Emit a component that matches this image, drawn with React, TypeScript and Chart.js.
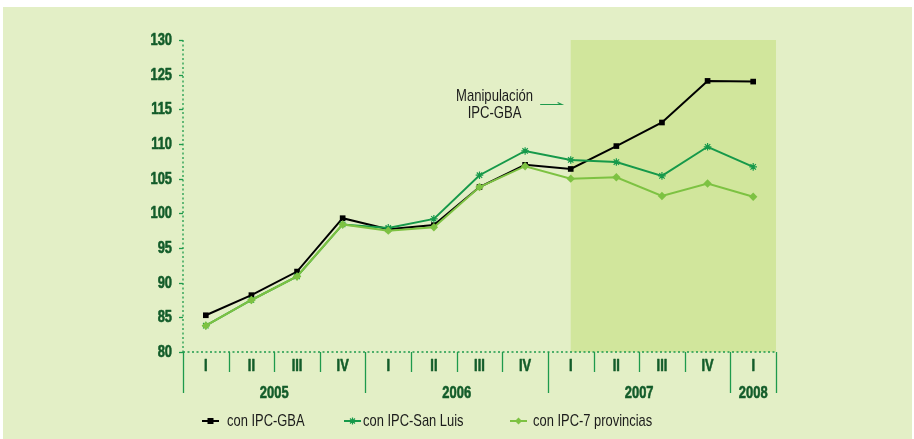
import { useEffect, useRef } from "react";
import { Chart, registerables } from "chart.js";

Chart.register(...registerables);

// ---- data ----
const quarters = ["I", "II", "III", "IV", "I", "II", "III", "IV", "I", "II", "III", "IV", "I"];
const years = ["2005", "2006", "2007", "2008"];
const yearSpans = [4, 4, 4, 1];
const yTickLabels = ["80", "85", "90", "95", "100", "105", "110", "115", "125", "130"];
const ipcGBA = [85.3, 88.2, 91.6, 99.3, 97.7, 98.3, 103.8, 107.0, 106.4, 109.7, 113.1, 119.1, 119.0];
const ipcSanLuis = [83.8, 87.5, 90.9, 98.4, 97.9, 99.2, 105.5, 109.0, 107.7, 107.4, 105.4, 109.6, 106.7];
const ipc7Prov = [83.8, 87.5, 90.9, 98.4, 97.5, 98.0, 103.8, 106.8, 105.0, 105.2, 102.5, 104.3, 102.4];
const seriesNames = ["con IPC-GBA", "con IPC-San Luis", "con IPC-7 provincias"];
const shadeFromIndex = 8;
const annotationLines = ["Manipulación", "IPC-GBA"];

// ---- styles ----
const FONT = "'Liberation Sans', Arial, sans-serif";
const BG = "#e3efc6";
const SHADE = "#d1e69c";
const AXIS = "#1e9a4c";
const TICKTEXT = "#135c2a";
const TEXT = "#1b1b1b";
const C_GBA = "#000000";
const C_SL = "#16994a";
const C_7P = "#7dc242";

function narrowText(
  ctx: CanvasRenderingContext2D,
  text: string,
  x: number,
  y: number,
  align: CanvasTextAlign,
  sx: number,
  embolden = 0
) {
  ctx.save();
  ctx.translate(x, y);
  ctx.scale(sx, 1);
  ctx.textAlign = align;
  ctx.fillText(text, 0, 0);
  if (embolden > 0) {
    ctx.strokeStyle = ctx.fillStyle as string;
    ctx.lineWidth = embolden;
    ctx.lineJoin = "round";
    ctx.strokeText(text, 0, 0);
  }
  ctx.restore();
}

const decorPlugin = {
  id: "decor",
  beforeDraw(chart: any) {
    const ctx = chart.ctx;
    ctx.save();
    ctx.fillStyle = "#ffffff";
    ctx.fillRect(0, 0, chart.width, chart.height);
    ctx.fillStyle = BG;
    ctx.fillRect(3, 7, chart.width - 5, chart.height - 7);
    ctx.restore();
  },
  beforeDatasetsDraw(chart: any) {
    const { ctx, chartArea, scales } = chart;
    const x = scales.x;
    ctx.save();
    const x0 = x.getPixelForValue(shadeFromIndex);
    ctx.fillStyle = SHADE;
    ctx.fillRect(x0, chartArea.top, chartArea.right - x0, chartArea.bottom - chartArea.top);
    ctx.restore();
  },
  afterDatasetsDraw(chart: any) {
    const { ctx, chartArea, scales } = chart;
    const x = scales.x;
    const y = scales.y;
    const { left, right, top, bottom } = chartArea;
    ctx.save();
    // y axis dotted
    ctx.strokeStyle = AXIS;
    ctx.lineWidth = 1.3;
    ctx.setLineDash([2, 2.5]);
    ctx.beginPath();
    ctx.moveTo(left, top);
    ctx.lineTo(left, bottom);
    ctx.stroke();
    // x axis dotted
    ctx.beginPath();
    ctx.moveTo(left, bottom);
    ctx.lineTo(right, bottom);
    ctx.stroke();
    ctx.setLineDash([]);

    // y ticks & labels
    ctx.font = `bold 17px ${FONT}`;
    ctx.fillStyle = TICKTEXT;
    ctx.textBaseline = "middle";
    yTickLabels.forEach((lab, i) => {
      const py = Math.round(y.getPixelForValue(80 + i * 5)) + 0.5;
      ctx.strokeStyle = AXIS;
      ctx.lineWidth = 1.3;
      ctx.beginPath();
      ctx.moveTo(left - 4, py);
      ctx.lineTo(left, py);
      ctx.stroke();
      narrowText(ctx, lab, left - 11, py, "right", 0.76, 0.6);
    });

    // x separators
    const yearBounds = new Set<number>();
    let acc = 0;
    yearBounds.add(0);
    yearSpans.forEach((s) => {
      acc += s;
      yearBounds.add(acc);
    });
    ctx.strokeStyle = AXIS;
    ctx.lineWidth = 1.3;
    for (let b = 0; b <= quarters.length; b++) {
      const px = Math.round(x.getPixelForValue(b - 0.5)) + 0.5;
      const len = yearBounds.has(b) ? 41 : 20;
      ctx.beginPath();
      ctx.moveTo(px, bottom);
      ctx.lineTo(px, bottom + len);
      ctx.stroke();
    }
    // quarter labels
    quarters.forEach((q, i) => {
      narrowText(ctx, q, x.getPixelForValue(i), bottom + 14, "center", 0.76, 0.6);
    });
    // year labels
    let start = 0;
    years.forEach((yr, i) => {
      const end = start + yearSpans[i];
      const cx = (x.getPixelForValue(start - 0.5) + x.getPixelForValue(end - 0.5)) / 2;
      narrowText(ctx, yr, cx, bottom + 41, "center", 0.76, 0.6);
      start = end;
    });

    // annotation
    ctx.font = `17px ${FONT}`;
    ctx.fillStyle = TEXT;
    const ax = x.getPixelForValue(6.33);
    narrowText(ctx, annotationLines[0], ax, y.getPixelForValue(116.9), "center", 0.77);
    narrowText(ctx, annotationLines[1], ax, y.getPixelForValue(114.4), "center", 0.77);
    const ay = Math.round(y.getPixelForValue(115.7)) + 0.5;
    const ax1 = x.getPixelForValue(7.33);
    const ax2 = x.getPixelForValue(7.8);
    ctx.strokeStyle = AXIS;
    ctx.lineWidth = 1.2;
    ctx.beginPath();
    ctx.moveTo(ax1, ay);
    ctx.lineTo(ax2, ay);
    ctx.lineTo(ax2 - 4, ay - 2);
    ctx.stroke();

    // legend
    const ly = 421;
    const items = [
      { x: 202, tx: 227, color: C_GBA, style: "rect" },
      { x: 344, tx: 363, color: C_SL, style: "star" },
      { x: 510, tx: 533, color: C_7P, style: "rectRot" },
    ];
    ctx.textBaseline = "middle";
    items.forEach((it, i) => {
      ctx.strokeStyle = it.color;
      ctx.fillStyle = it.color;
      ctx.lineWidth = 2;
      ctx.beginPath();
      ctx.moveTo(it.x, ly);
      ctx.lineTo(it.x + 17, ly);
      ctx.stroke();
      const cx = it.x + 8.5;
      ctx.lineWidth = 1.2;
      if (it.style === "rect") {
        ctx.fillRect(cx - 3, ly - 3, 6, 6);
      } else if (it.style === "star") {
        ctx.beginPath();
        for (let k = 0; k < 4; k++) {
          const a = (k * Math.PI) / 4;
          ctx.moveTo(cx - 3.5 * Math.cos(a), ly - 3.5 * Math.sin(a));
          ctx.lineTo(cx + 3.5 * Math.cos(a), ly + 3.5 * Math.sin(a));
        }
        ctx.stroke();
      } else {
        ctx.beginPath();
        ctx.moveTo(cx, ly - 3.5);
        ctx.lineTo(cx + 3.5, ly);
        ctx.lineTo(cx, ly + 3.5);
        ctx.lineTo(cx - 3.5, ly);
        ctx.closePath();
        ctx.fill();
      }
      ctx.fillStyle = TEXT;
      ctx.font = `17px ${FONT}`;
      narrowText(ctx, seriesNames[i], it.tx, ly, "left", 0.76);
    });
    ctx.restore();
  },
};

export default function App() {
  const ref = useRef<HTMLCanvasElement | null>(null);
  useEffect(() => {
    if (!ref.current) return;
    const chart = new Chart(ref.current, {
      type: "line",
      data: {
        labels: quarters,
        datasets: [
          {
            label: seriesNames[0],
            data: ipcGBA,
            borderColor: C_GBA,
            backgroundColor: C_GBA,
            borderWidth: 2,
            pointStyle: "rect",
            pointRadius: 4,
            pointBorderWidth: 0,
            order: 3,
          },
          {
            label: seriesNames[1],
            data: ipcSanLuis,
            borderColor: C_SL,
            backgroundColor: C_SL,
            borderWidth: 2,
            pointStyle: "star",
            pointRadius: 3.8,
            pointBorderWidth: 1.2,
            order: 2,
          },
          {
            label: seriesNames[2],
            data: ipc7Prov,
            borderColor: C_7P,
            backgroundColor: C_7P,
            borderWidth: 2,
            pointStyle: "rectRot",
            pointRadius: 4.2,
            pointBorderWidth: 0,
            order: 1,
          },
        ],
      },
      options: {
        responsive: false,
        animation: false,
        layout: { padding: { left: 183, right: 138, top: 40, bottom: 87 } },
        plugins: { legend: { display: false }, tooltip: { enabled: false } },
        scales: {
          x: { type: "category", offset: true, display: false },
          y: { type: "linear", min: 80, max: 125, display: false },
        },
        elements: { line: { tension: 0 } },
      },
      plugins: [decorPlugin],
    });
    return () => chart.destroy();
  }, []);
  return (
    <div style={{ position: "fixed", left: 0, top: 0, width: 914, height: 439 }}>
      <canvas ref={ref} width={914} height={439} style={{ width: 914, height: 439 }} />
    </div>
  );
}
